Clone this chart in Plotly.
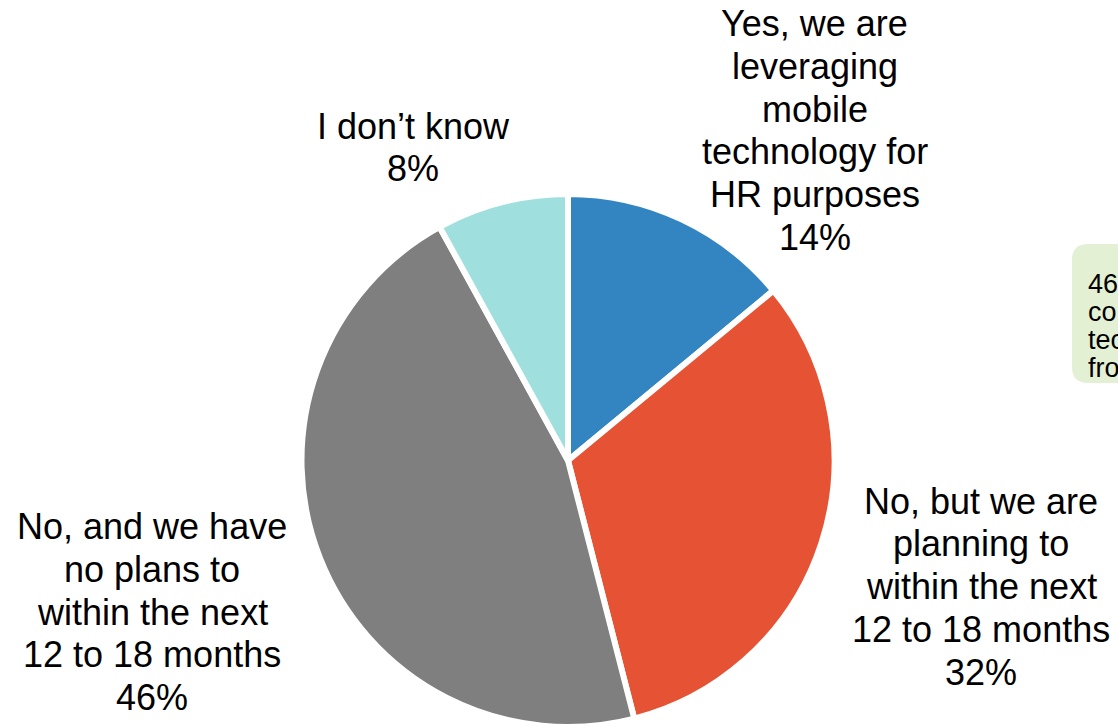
import plotly.graph_objects as go

# ---- data ----
categories = [
    "Yes, we are leveraging mobile technology for HR purposes",
    "No, but we are planning to within the next 12 to 18 months",
    "No, and we have no plans to within the next 12 to 18 months",
    "I don\u2019t know",
]
values = [14, 32, 46, 8]
label_lines = [
    ["Yes, we are", "leveraging", "mobile", "technology for", "HR purposes"],
    ["No, but we are", "planning to", "within the next", "12 to 18 months"],
    ["No, and we have", "no plans to", "within the next", "12 to 18 months"],
    ["I don\u2019t know"],
]
callout_lines = ["46% of", "companies", "technology", "from"]

# ---- style ----
colors = ["#3385C1", "#E55234", "#7F7F7F", "#9FE0DE"]
W, H = 1118, 727
FONT = "Liberation Sans, Arial, sans-serif"
label_pos = [(815, 23.5), (981, 501), (152, 526.5), (413, 126)]  # first line centre (px)
pitch = 42.8


def px(x):
    return x / W


def py(y):
    return 1 - y / H


line_w = 6
cx, cy, r_vis = 568, 462, 265
r_real = r_vis + line_w / 2
top = cy - r_real

fig = go.Figure()
fig.add_trace(go.Pie(
    labels=categories,
    values=values,
    sort=False,
    direction="clockwise",
    rotation=0,
    textinfo="none",
    hoverinfo="label+percent",
    marker=dict(colors=colors, line=dict(color="white", width=line_w)),
    domain=dict(x=[px(cx - r_real), px(cx + r_real)], y=[0, py(top)]),
    showlegend=False,
))

annotations = []
for lines, v, (x0, y0) in zip(label_lines, values, label_pos):
    all_lines = lines + [f"{v}%"]
    for i, t in enumerate(all_lines):
        annotations.append(dict(
            x=px(x0), y=py(y0 + i * pitch), xref="paper", yref="paper",
            text=t, showarrow=False, xanchor="center", yanchor="middle",
            font=dict(family=FONT, size=36, color="black"),
        ))

# green callout box (cut off by the right edge)
bx0, by0, by1, rad = 1072, 244, 383, 16
bx1 = 1250
path = (f"M {px(bx0 + rad)},{py(by0)} L {px(bx1)},{py(by0)} L {px(bx1)},{py(by1)} "
        f"L {px(bx0 + rad)},{py(by1)} Q {px(bx0)},{py(by1)} {px(bx0)},{py(by1 - rad)} "
        f"L {px(bx0)},{py(by0 + rad)} Q {px(bx0)},{py(by0)} {px(bx0 + rad)},{py(by0)} Z")
shapes = [dict(type="path", path=path, xref="paper", yref="paper",
               fillcolor="#E3F0D4", line=dict(width=0), layer="below")]

for i, t in enumerate(callout_lines):
    annotations.append(dict(
        x=px(1086), y=py(284 + i * 28), xref="paper", yref="paper",
        text=t, showarrow=False, xanchor="left", yanchor="middle",
        font=dict(family=FONT, size=27, color="black"),
    ))

fig.update_layout(
    width=W, height=H,
    margin=dict(l=0, r=0, t=0, b=0),
    paper_bgcolor="white", plot_bgcolor="white",
    annotations=annotations, shapes=shapes,
)
fig.write_html("out.html")
